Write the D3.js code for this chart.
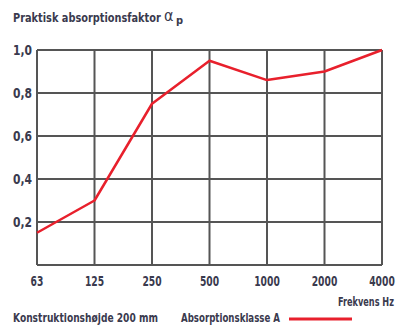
<!DOCTYPE html>
<html><head><meta charset="utf-8">
<script src="https://cdn.jsdelivr.net/npm/d3@7"></script>
<style>body{margin:0;background:#fff}</style>
</head><body>
<svg id="c" width="398" height="325"></svg>
<script>
const categories = ["63","125","250","500","1000","2000","4000"];
const values = [0.15, 0.30, 0.75, 0.95, 0.86, 0.90, 1.0];
const yTicks = [0.2, 0.4, 0.6, 0.8, 1.0];
const yTickLabels = ["0,2","0,4","0,6","0,8","1,0"];

(function(){
const svg = d3.select("#c");
const pl = 37, pr = 382, pt = 50, pb = 265;
const x = d3.scalePoint().domain(categories).range([pl, pr]);
const y = d3.scaleLinear().domain([0, 1]).range([pb, pt]);
const txt = "#3a3a4e";
const font = "'DejaVu Sans Condensed','Liberation Sans Narrow','Liberation Sans',sans-serif";

// text placed at (tx,ty), squeezed horizontally so that its width equals w
function label(str, tx, ty, size, w, anchor) {
  const t = svg.append("text").attr("font-family", font).attr("font-size", size)
    .attr("font-weight", "bold").attr("fill", txt).attr("dy", "0.35em").text(str);
  const nat = t.node().getComputedTextLength();
  const s = w / nat;
  const off = anchor === "middle" ? -w / 2 : anchor === "end" ? -w : 0;
  t.attr("transform", `translate(${tx + off},${ty}) scale(${s},1)`);
  return t;
}

const g = svg.append("g");
g.selectAll(".v").data(categories).enter().append("line")
  .attr("x1", d => x(d)).attr("x2", d => x(d)).attr("y1", pt).attr("y2", pb)
  .attr("stroke", "#555").attr("stroke-width", 2);
g.selectAll(".h").data([0].concat(yTicks)).enter().append("line")
  .attr("x1", pl).attr("x2", pr).attr("y1", d => y(d)).attr("y2", d => y(d))
  .attr("stroke", "#555").attr("stroke-width", 2);

yTicks.forEach((v, i) => label(yTickLabels[i], 13, y(v), 13.5, 19, "start"));
categories.forEach(c => label(c, x(c), 281, 13.5, c.length * 6.4, "middle"));

const line = d3.line().x((d, i) => x(categories[i])).y(d => y(d));
svg.append("path").datum(values).attr("d", line)
  .attr("fill", "none").attr("stroke", "#e8202c").attr("stroke-width", 2.5)
  .attr("stroke-linejoin", "round");

label("Praktisk absorptionsfaktor", 13, 17, 13, 148, "start");
svg.append("text").attr("x", 164).attr("y", 21).attr("font-family", font)
  .attr("font-size", 16).attr("fill", txt).text("α");
svg.append("text").attr("x", 176).attr("y", 24).attr("font-family", font)
  .attr("font-size", 11).attr("font-weight", "bold").attr("fill", txt).text("p");

label("Frekvens Hz", 338, 302, 12, 56, "start");
label("Konstruktionshøjde 200 mm", 13, 318, 12, 145, "start");
label("Absorptionsklasse A", 181, 318, 12, 99, "start");
svg.append("line").attr("x1", 289).attr("x2", 352).attr("y1", 319).attr("y2", 319)
  .attr("stroke", "#e8202c").attr("stroke-width", 3);
})();
</script>
</body></html>
